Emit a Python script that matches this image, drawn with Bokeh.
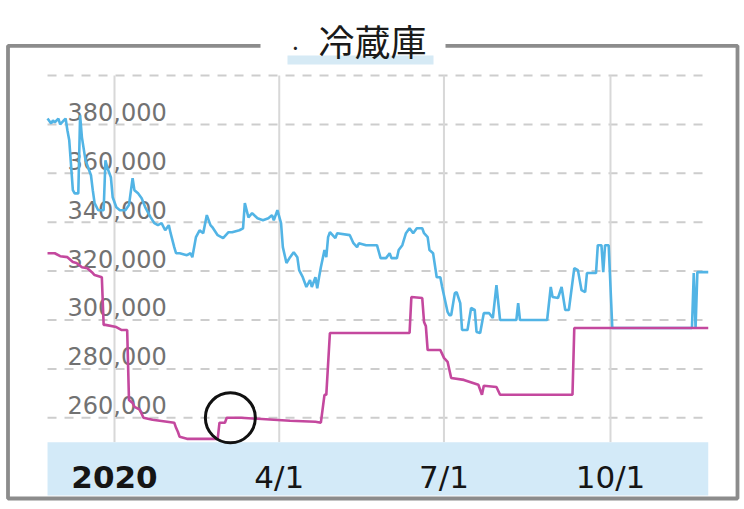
import pandas as pd
from bokeh.plotting import figure
from bokeh.models import Range1d, BoxAnnotation, Label
from bokeh.core.properties import value
from bokeh.embed import file_html
from bokeh.resources import INLINE

# ---------------- data ----------------
blue_dates = [
    "2019-11-25", "2019-11-27", "2019-11-28", "2019-11-29", "2019-12-01", "2019-12-02",
    "2019-12-04", "2019-12-05", "2019-12-06", "2019-12-07", "2019-12-09", "2019-12-10",
    "2019-12-12", "2019-12-13", "2019-12-14", "2019-12-16", "2019-12-19", "2019-12-20",
    "2019-12-21", "2019-12-23", "2019-12-26", "2019-12-27", "2019-12-28", "2019-12-30",
    "2019-12-31", "2020-01-02", "2020-01-04", "2020-01-07", "2020-01-09", "2020-01-11",
    "2020-01-12", "2020-01-14", "2020-01-16", "2020-01-18", "2020-01-21", "2020-01-23",
    "2020-01-25", "2020-01-27", "2020-01-29", "2020-01-31", "2020-02-01", "2020-02-03",
    "2020-02-04", "2020-02-06", "2020-02-10", "2020-02-12", "2020-02-13", "2020-02-15",
    "2020-02-17", "2020-02-19", "2020-02-21", "2020-02-23", "2020-02-24", "2020-02-27",
    "2020-03-01", "2020-03-04", "2020-03-06", "2020-03-10", "2020-03-12", "2020-03-13",
    "2020-03-15", "2020-03-17", "2020-03-20", "2020-03-23", "2020-03-26", "2020-03-28",
    "2020-03-29", "2020-03-31", "2020-04-02", "2020-04-03", "2020-04-05", "2020-04-07",
    "2020-04-09", "2020-04-11", "2020-04-12", "2020-04-14", "2020-04-16", "2020-04-18",
    "2020-04-19", "2020-04-21", "2020-04-22", "2020-04-23", "2020-04-24", "2020-04-26",
    "2020-04-27", "2020-04-28", "2020-04-29", "2020-05-02", "2020-05-03", "2020-05-10",
    "2020-05-12", "2020-05-14", "2020-05-15", "2020-05-19", "2020-05-25", "2020-05-27",
    "2020-05-30", "2020-06-01", "2020-06-02", "2020-06-05", "2020-06-06", "2020-06-08",
    "2020-06-10", "2020-06-12", "2020-06-14", "2020-06-16", "2020-06-19", "2020-06-20",
    "2020-06-22", "2020-06-23", "2020-06-25", "2020-06-27", "2020-06-29", "2020-06-30",
    "2020-07-03", "2020-07-04", "2020-07-05", "2020-07-07", "2020-07-08", "2020-07-10",
    "2020-07-11", "2020-07-14", "2020-07-16", "2020-07-18", "2020-07-19", "2020-07-21",
    "2020-07-23", "2020-07-26", "2020-07-28", "2020-07-30", "2020-08-01", "2020-08-10",
    "2020-08-11", "2020-08-12", "2020-08-27", "2020-08-29", "2020-08-30", "2020-09-02",
    "2020-09-04", "2020-09-06", "2020-09-08", "2020-09-11", "2020-09-13", "2020-09-15",
    "2020-09-17", "2020-09-18", "2020-09-23", "2020-09-24", "2020-09-26", "2020-09-27",
    "2020-09-28", "2020-09-30", "2020-10-02", "2020-11-15", "2020-11-16", "2020-11-17",
    "2020-11-18", "2020-11-24",
]
blue_values = [
    382400, 380400, 381600, 380800, 382400, 380000,
    381600, 382400, 377500, 373500, 353100, 351800,
    351800, 383700, 374700, 365300, 359200, 353100,
    347800, 344900, 344900, 365300, 362400, 358400,
    350200, 346100, 344900, 344900, 347000, 358000,
    353100, 351800, 349800, 346100, 342000, 339600,
    338800, 339600, 336700, 338800, 335500, 329800,
    327300, 327300, 326500, 327300, 325700, 333900,
    336700, 335500, 342900, 338800, 338000, 334700,
    333500, 335900, 335900, 336700, 337500, 347800,
    342000, 343700, 341600, 340800, 341600, 342900,
    340800, 344900, 339600, 329800, 323300, 325700,
    327700, 325700, 320400, 317500, 313500, 316300,
    313500, 317500, 313000, 317500, 321600, 328600,
    325700, 333900, 335900, 333500, 335500, 334700,
    331400, 329800, 331400, 330600, 330600, 325300,
    325300, 327300, 325300, 325300, 328600, 330600,
    335500, 337500, 335500, 337500, 337500, 335500,
    333900, 328600, 327300, 317500, 317500, 313500,
    303300, 302000, 302000, 311000, 311400, 306900,
    295900, 295900, 304900, 304100, 295100, 294700,
    302800, 302800, 300800, 314300, 300000, 300000,
    306900, 300000, 300000, 313500, 309400, 309000,
    313500, 304100, 304100, 321200, 320400, 312200,
    311400, 319200, 319200, 330600, 330600, 319600,
    330600, 330600, 296700, 296700, 319200, 296700,
    319600, 319600,
]

pink_dates = [
    "2019-11-25", "2019-11-29", "2019-12-02", "2019-12-06", "2019-12-09", "2019-12-11",
    "2019-12-14", "2019-12-17", "2019-12-20", "2019-12-21", "2019-12-25", "2019-12-26",
    "2019-12-27", "2020-01-02", "2020-01-05", "2020-01-08", "2020-01-09", "2020-01-11",
    "2020-01-12", "2020-01-15", "2020-01-17", "2020-01-22", "2020-01-30", "2020-02-03",
    "2020-02-04", "2020-02-05", "2020-02-06", "2020-02-10", "2020-02-27", "2020-02-28",
    "2020-03-02", "2020-03-03", "2020-03-11", "2020-03-29", "2020-04-07", "2020-04-21",
    "2020-04-24", "2020-04-26", "2020-04-27", "2020-04-29", "2020-06-12", "2020-06-13",
    "2020-06-19", "2020-06-20", "2020-06-21", "2020-06-22", "2020-06-29", "2020-07-01",
    "2020-07-03", "2020-07-05", "2020-07-12", "2020-07-20", "2020-07-22", "2020-07-23",
    "2020-07-30", "2020-08-01", "2020-09-10", "2020-09-11", "2020-11-24",
]
pink_values = [
    327300, 327300, 326100, 325700, 323700, 323300,
    321600, 321200, 319200, 318400, 317500, 298000,
    298000, 297100, 295900, 295900, 267300, 266100,
    264500, 263300, 260000, 259200, 258400, 258000,
    255900, 254300, 252200, 251400, 251400, 258000,
    258000, 260000, 260000, 259200, 258800, 258400,
    258000, 269400, 269400, 294700, 294700, 309400,
    309000, 299200, 297500, 287700, 287700, 284500,
    282900, 276300, 275500, 273500, 269400, 273100,
    272600, 269400, 269400, 296700, 296700,
]

grid_values = [260000, 280000, 300000, 320000, 340000, 360000, 380000, 400000]
y_label_values = [260000, 280000, 300000, 320000, 340000, 360000, 380000]
y_label_texts = ["260,000", "280,000", "300,000", "320,000", "340,000", "360,000", "380,000"]
x_tick_dates = ["2020-01-01", "2020-04-01", "2020-07-01", "2020-10-01"]
x_tick_labels = ["2020", "4/1", "7/1", "10/1"]
period_start = "2019-11-25"
period_end = "2020-11-24"
value_floor = 250000
value_ceiling = 400000
band_floor = 228200
highlight_date = ["2020-03-05"]
highlight_value = [260000]
title_text = "冷蔵庫"

# ---------------- figure ----------------
W, H = 744, 505
to_dt = pd.to_datetime
x_range = Range1d(pd.Timestamp("2019-10-30 00:33"), pd.Timestamp("2020-12-14 00:43"))
y_range = Range1d(224130, 430675)

p = figure(width=W, height=H, x_range=x_range, y_range=y_range,
           x_axis_location=None, y_axis_location=None,
           toolbar_location=None, output_backend="svg",
           min_border_left=0, min_border_right=0,
           min_border_top=0, min_border_bottom=0)
p.outline_line_color = None
p.background_fill_color = "white"
p.border_fill_color = "white"
p.grid.visible = False

n_grid = len(grid_values)
p.segment(x0=to_dt([period_start] * n_grid), x1=to_dt([period_end] * n_grid),
          y0=grid_values, y1=grid_values,
          line_color="#cdcdcd", line_width=2, line_dash="9 8")
n_x = len(x_tick_dates)
p.segment(x0=to_dt(x_tick_dates), x1=to_dt(x_tick_dates),
          y0=[value_floor] * n_x, y1=[value_ceiling] * n_x,
          line_color="#d8d8d8", line_width=2)

# x-axis band
p.quad(left=to_dt([period_start]), right=to_dt([period_end]),
       bottom=[band_floor], top=[value_floor],
       fill_color="#d3eaf8", line_color=None)

# y labels
p.text(x=to_dt([period_start] * len(y_label_values)), y=y_label_values, text=y_label_texts,
       x_offset=20, y_offset=-12.5, text_font=value("DejaVu Sans"), text_font_size="24px",
       text_color="#727272", text_align="left", text_baseline="middle")

# x labels
p.text(x=to_dt(x_tick_dates[:1]), y=[value_floor], text=x_tick_labels[:1],
       y_offset=34.5, text_font=value("DejaVu Sans"), text_font_size="31px",
       text_font_style="bold", text_color="#151515",
       text_align="center", text_baseline="middle")
p.text(x=to_dt(x_tick_dates[1:]), y=[value_floor] * (n_x - 1), text=x_tick_labels[1:],
       y_offset=34.5, text_font=value("DejaVu Sans"), text_font_size="31px",
       text_color="#151515", text_align="center", text_baseline="middle")

# series
p.line(to_dt(blue_dates), blue_values, line_color="#52b4e5", line_width=2.6)
p.line(to_dt(pink_dates), pink_values, line_color="#c4489e", line_width=2.6)

# highlight circle
p.scatter(x=to_dt(highlight_date), y=highlight_value, marker="circle", size=50,
          fill_color=None, line_color="#111111", line_width=3)

# outer frame border with a gap for the title (screen units, from bottom-left)
box_units = dict(left_units="screen", right_units="screen",
                 bottom_units="screen", top_units="screen")
border = BoxAnnotation(left=7.5, right=737, bottom=H - 498, top=H - 45.3,
                       fill_alpha=0, line_color="#8c8c8c", line_alpha=1,
                       line_width=3.8, **box_units)
p.add_layout(border)
gap = BoxAnnotation(left=260, right=445, bottom=H - 51, top=H - 40,
                    fill_color="white", fill_alpha=1, line_color=None, **box_units)
p.add_layout(gap)
underline = BoxAnnotation(left=287, right=433, bottom=H - 64, top=H - 55,
                          fill_color="#d6eaf5", fill_alpha=1, line_color=None, **box_units)
p.add_layout(underline)
dot = Label(x=295, y=H - 45.5, x_units="screen", y_units="screen", text="·",
            text_font="Noto Sans CJK JP", text_font_size="24px", text_color="#222222",
            text_align="center", text_baseline="middle")
p.add_layout(dot)
title = Label(x=372, y=H - 39, x_units="screen", y_units="screen", text=title_text,
              text_font="Noto Sans CJK JP", text_font_size="36px", text_color="#1a1a1a",
              text_align="center", text_baseline="middle")
p.add_layout(title)

open("out.html", "w").write(file_html(p, INLINE))
